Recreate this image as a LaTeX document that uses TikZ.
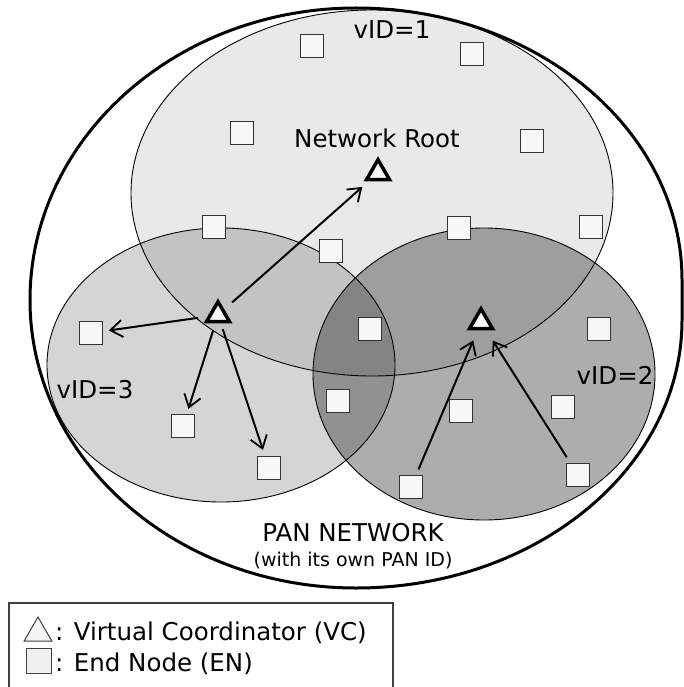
\documentclass[tikz,border=0pt]{standalone}
\usepackage{fontspec}
\setmainfont{DejaVu Sans}
\usetikzlibrary{arrows.meta,shapes.geometric}
\begin{document}
\begin{tikzpicture}[x=1pt,y=-1pt,
  en/.style={rectangle, draw=black!80, fill=black!3, line width=1.2pt, minimum size=23.5pt, inner sep=0pt},
  vc/.style={regular polygon, regular polygon sides=3, draw=black, fill=black!2, line width=3.5pt, minimum size=26.5pt, inner sep=0pt, line join=miter},
  link/.style={line width=2pt, -{Straight Barb[length=12pt,width=17pt,line width=1.8pt]}},
  lbl/.style={font=\fontsize{24.5}{29}\selectfont, inner sep=0pt, anchor=base},
  sub/.style={font=\fontsize{19}{23}\selectfont, inner sep=0pt, anchor=base},
  region/.style={draw=black, line width=0.9pt},
  outerline/.style={draw=black, line width=3pt},
  legbox/.style={draw=black!75, line width=1.2pt},
]
\useasboundingbox (0,0) rectangle (683,687);

% region fills
\fill[black, fill opacity=0.086] (372,193) ellipse[x radius=241, y radius=183];
\fill[black, fill opacity=0.165] (221,365) ellipse[x radius=174, y radius=137];
\fill[black, fill opacity=0.32] (484,374) ellipse[x radius=171, y radius=146];
% region borders
\draw[region] (372,193) ellipse[x radius=241, y radius=183];
\draw[region] (221,365) ellipse[x radius=174, y radius=137];
\draw[region] (484,374) ellipse[x radius=171, y radius=146];

% PAN network outline
\draw[outerline] (30,300) arc[start angle=180, end angle=270, x radius=326, y radius=292]
  arc[start angle=270, end angle=360, x radius=326, y radius=272]
  -- (682,320)
  arc[start angle=0, end angle=90, x radius=326, y radius=268]
  arc[start angle=90, end angle=180, x radius=326, y radius=288] -- cycle;

% end nodes
\node[en] (s1) at (312,46) {};
\node[en] (s2) at (472,54) {};
\node[en] (s3) at (242,133) {};
\node[en] (s4) at (532,141) {};
\node[en] (s5) at (214,227) {};
\node[en] (s6) at (459,228) {};
\node[en] (s7) at (591,227) {};
\node[en] (s8) at (331,251) {};
\node[en] (s9) at (91,333) {};
\node[en] (s10) at (370,329) {};
\node[en] (s11) at (599,329) {};
\node[en] (s12) at (338,401) {};
\node[en] (s13) at (461,411) {};
\node[en] (s14) at (563,407) {};
\node[en] (s15) at (183,426) {};
\node[en] (s16) at (269,468) {};
\node[en] (s17) at (411,487) {};
\node[en] (s18) at (578,475) {};

% virtual coordinators
\node[vc] (root) at (378,173) {};
\node[vc] (vc3) at (218,315) {};
\node[vc] (vc2) at (481,322) {};

% links
\draw[link, shorten <=19pt, shorten >=21pt] (vc3.center) -- (root.center);
\draw[link, shorten <=20pt, shorten >=18pt] (vc3.center) -- (s9.center);
\draw[link, shorten <=16pt, shorten >=18pt] (vc3.center) -- (s15.center);
\draw[link, shorten <=15pt, shorten >=19pt] (vc3.center) -- (s16.center);
\draw[link, shorten <=19pt, shorten >=20pt] (s17.center) -- (vc2.center);
\draw[link, shorten <=21pt, shorten >=22pt] (s18.center) -- (vc2.center);

% labels
\node[lbl] (t1) at (392,39) {vID=1};
\node[lbl] (troot) at (377,148) {Network Root};
\node[lbl] (t3) at (95,398) {vID=3};
\node[lbl] (t2) at (615,384) {vID=2};
\node[lbl] (tpan) at (353,541) {PAN NETWORK};
\node[sub] (tsub) at (353,566) {(with its own PAN ID)};

% legend
\draw[legbox] (9,603) rectangle (393,700);
\node[regular polygon, regular polygon sides=3, draw=black!75, fill=black!4, line width=1pt, minimum size=32pt, inner sep=0pt] (legvc) at (38,633) {};
\node[rectangle, draw=black!75, fill=black!6, line width=1pt, minimum size=25pt, inner sep=0pt] (legen) at (38.5,660.5) {};
\node[lbl, anchor=base west] (legt1) at (55,640) {: Virtual Coordinator (VC)};
\node[lbl, anchor=base west] (legt2) at (55,671) {: End Node (EN)};
\end{tikzpicture}
\end{document}
